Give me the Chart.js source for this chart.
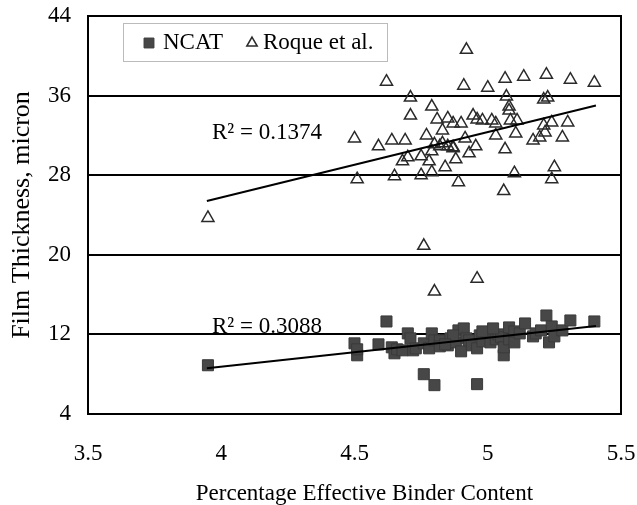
<!DOCTYPE html>
<html>
<head>
<meta charset="utf-8">
<script src="https://cdn.jsdelivr.net/npm/chart.js@4/dist/chart.umd.min.js"></script>
<style>
  html, body { margin: 0; padding: 0; background: #fff; }
</style>
</head>
<body>
<canvas id="myChart" width="637" height="505"></canvas>
<script>
// Datos
let ncatX = [3.95, 4.50, 4.51, 4.51, 4.59, 4.62, 4.64, 4.65, 4.66, 4.68, 4.70, 4.71, 4.72, 4.73, 4.76,
  4.76, 4.78, 4.79, 4.80, 4.80, 4.82, 4.82, 4.85, 4.86, 4.88, 4.89, 4.90, 4.91, 4.92, 4.93,
  4.94, 4.96, 4.96, 4.97, 4.98, 5.00, 5.01, 5.03, 5.04, 5.05, 5.06, 5.06, 5.08, 5.08, 5.10,
  5.10, 5.12, 5.14, 5.17, 5.18, 5.20, 5.22, 5.23, 5.24, 5.25, 5.28, 5.31, 5.40, 4.87, 4.84,
  4.98, 5.02];
let ncatY = [8.9, 11.1, 9.9, 10.5, 11.0, 13.3, 10.7, 10.1, 10.5, 10.4, 12.1, 11.6, 10.4, 10.6, 8.0,
  11.1, 10.6, 12.1, 6.9, 11.4, 11.4, 10.8, 10.9, 11.6, 11.2, 12.4, 10.3, 12.6, 11.6, 11.4,
  10.9, 7.0, 10.6, 11.9, 11.3, 12.1, 11.2, 11.5, 12.0, 11.7, 9.9, 10.7, 12.7, 11.5, 11.2,
  12.3, 12.1, 13.1, 11.8, 12.1, 12.4, 13.9, 11.2, 12.8, 11.8, 12.4, 13.4, 13.3, 11.9, 11.0,
  12.3, 12.6];

let roqueX = [3.95, 4.50, 4.51, 4.59, 4.62, 4.64, 4.65, 4.68, 4.69, 4.70, 4.71, 4.71, 4.75, 4.75, 4.76,
  4.77, 4.78, 4.79, 4.79, 4.79, 4.80, 4.80, 4.81, 4.82, 4.83, 4.84, 4.85, 4.85, 4.87, 4.87,
  4.88, 4.89, 4.90, 4.91, 4.915, 4.92, 4.93, 4.945, 4.955, 4.96, 4.96, 4.98, 5.00, 5.015, 5.03,
  5.03, 5.06, 5.065, 5.065, 5.07, 5.08, 5.08, 5.085, 5.10, 5.105, 5.11, 5.135, 5.17, 5.195, 5.21,
  5.21, 5.215, 5.22, 5.225, 5.24, 5.24, 5.25, 5.28, 5.30, 5.31, 5.40, 4.83, 4.87];
let roqueY = [23.7, 31.7, 27.6, 30.9, 37.4, 31.5, 27.9, 29.4, 31.5, 29.8, 35.8, 34.0, 29.9, 28.0, 20.9,
  32.0, 29.4, 34.9, 30.4, 28.3, 31.1, 16.3, 33.6, 30.9, 32.5, 28.8, 33.7, 30.9, 33.2, 30.7,
  29.6, 27.3, 33.2, 37.0, 31.7, 40.6, 30.2, 34.0, 30.9, 33.6, 17.6, 33.5, 36.8, 33.5, 32.0,
  33.2, 26.4, 30.6, 37.7, 35.9, 34.9, 34.5, 33.5, 28.2, 32.2, 33.5, 37.9, 31.5, 31.8, 35.6,
  33.0, 32.3, 38.1, 35.8, 33.3, 27.6, 28.8, 31.8, 33.3, 37.6, 37.3, 31.2, 30.8];

// Líneas de tendencia (extremos)
let trendX = [3.946, 5.406];
let ncatTrendY = [8.6, 12.85];
let roqueTrendY = [25.4, 35.0];

// Etiquetas R²
let r2Text = ['R\u00b2 = 0.3088', 'R\u00b2 = 0.1374'];
let r2X = [3.965, 3.965];
let r2Y = [12.1, 31.6];

let xTicks = [3.5, 4, 4.5, 5, 5.5];
let yTicks = [4, 12, 20, 28, 36, 44];
let xTitle = 'Percentage Effective Binder Content';
let yTitle = 'Film Thickness, micron';

let serif = "'Liberation Serif', 'Times New Roman', serif";

function toPoints(xs, ys) {
  return xs.map((x, i) => ({ x: x, y: ys[i] }));
}

document.addEventListener('DOMContentLoaded', function() {
  // Marco del área del gráfico
  let framePlugin = {
    id: 'frame',
    beforeDatasetsDraw(chart) {
      let a = chart.chartArea, ctx = chart.ctx;
      ctx.save();
      ctx.strokeStyle = '#000';
      ctx.lineWidth = 2;
      ctx.strokeRect(a.left, a.top, a.right - a.left, a.bottom - a.top);
      ctx.restore();
    }
  };

  // Títulos de ejes, texto R² y leyenda con borde punteado
  let notesPlugin = {
    id: 'notes',
    afterDraw(chart) {
      let ctx = chart.ctx, a = chart.chartArea;
      let sx = chart.scales.x, sy = chart.scales.y;
      ctx.save();
      ctx.fillStyle = '#000';
      ctx.textBaseline = 'alphabetic';

      ctx.font = '23px ' + serif;
      ctx.textAlign = 'center';
      ctx.fillText(xTitle, a.left + (a.right - a.left) / 2 + 10, 500);

      ctx.save();
      ctx.font = '26px ' + serif;
      ctx.translate(28.5, (a.top + a.bottom) / 2);
      ctx.rotate(-Math.PI / 2);
      ctx.fillText(yTitle, 0, 0);
      ctx.restore();

      ctx.textAlign = 'left';
      ctx.font = '23px ' + serif;
      r2Text.forEach((t, i) => {
        ctx.fillText(t, sx.getPixelForValue(r2X[i]), sy.getPixelForValue(r2Y[i]));
      });

      let bx = a.left + 35, by = a.top + 7, bw = 264, bh = 38;
      ctx.setLineDash([1, 1]);
      ctx.strokeStyle = '#777';
      ctx.lineWidth = 1;
      ctx.strokeRect(bx + 0.5, by + 0.5, bw, bh);
      ctx.setLineDash([]);

      let cy = by + bh / 2 + 1;
      let markX = [26, 129];
      let textX = [40, 140];
      [0, 1].forEach(i => {
        let ds = chart.data.datasets[i];
        ctx.fillStyle = ds.backgroundColor;
        ctx.strokeStyle = ds.borderColor;
        ctx.lineWidth = ds.borderWidth;
        Chart.helpers.drawPoint(ctx, {
          pointStyle: ds.pointStyle, radius: i === 0 ? 7 : 6, borderWidth: ds.borderWidth, rotation: 0
        }, bx + markX[i], cy);
        ctx.fillStyle = '#000';
        ctx.textBaseline = 'middle';
        ctx.fillText(ds.label, bx + textX[i], cy);
      });
      ctx.restore();
    }
  };

  let ctx = document.getElementById('myChart').getContext('2d');

  let myChart = new Chart(ctx, {
    type: 'scatter',
    data: {
      datasets: [{
        label: 'NCAT',
        data: toPoints(ncatX, ncatY),
        pointStyle: 'rect',
        pointRadius: 7.8,
        backgroundColor: '#474747',
        borderColor: '#3a3a3a',
        borderWidth: 1,
        order: 2
      }, {
        label: 'Roque et al.',
        data: toPoints(roqueX, roqueY),
        pointStyle: 'triangle',
        pointRadius: 7,
        backgroundColor: 'rgba(255,255,255,0)',
        borderColor: '#2a2a2a',
        borderWidth: 1.5,
        order: 2
      }, {
        label: 'ncat trend',
        data: toPoints(trendX, ncatTrendY),
        showLine: true,
        pointRadius: 0,
        borderColor: '#000',
        borderWidth: 2,
        order: 1
      }, {
        label: 'roque trend',
        data: toPoints(trendX, roqueTrendY),
        showLine: true,
        pointRadius: 0,
        borderColor: '#000',
        borderWidth: 2,
        order: 1
      }]
    },
    options: {
      responsive: false,
      animation: false,
      layout: { padding: { top: 16, right: 16, left: 0, bottom: 0 } },
      plugins: {
        legend: { display: false },
        tooltip: { enabled: false }
      },
      scales: {
        x: {
          type: 'linear',
          min: 3.5,
          max: 5.5,
          afterBuildTicks: axis => { axis.ticks = xTicks.map(v => ({ value: v })); },
          afterFit: axis => {
            axis.height = 91;
            axis.paddingLeft = 0;
            axis.paddingRight = 0;
          },
          grid: { display: false, drawTicks: false },
          border: { display: false },
          ticks: {
            color: '#000', padding: 26, font: { family: serif, size: 23 },
            callback: value => String(value)
          }
        },
        y: {
          min: 4,
          max: 44,
          afterBuildTicks: axis => { axis.ticks = yTicks.map(v => ({ value: v })); },
          afterFit: axis => {
            axis.width = 88;
            axis.paddingTop = 0;
            axis.paddingBottom = 0;
          },
          grid: { color: '#000', lineWidth: 2, drawTicks: false },
          border: { display: false },
          ticks: {
            color: '#000', padding: 17, font: { family: serif, size: 23 },
            callback: value => String(value)
          }
        }
      }
    },
    plugins: [framePlugin, notesPlugin]
  });
});
</script>
</body>
</html>
